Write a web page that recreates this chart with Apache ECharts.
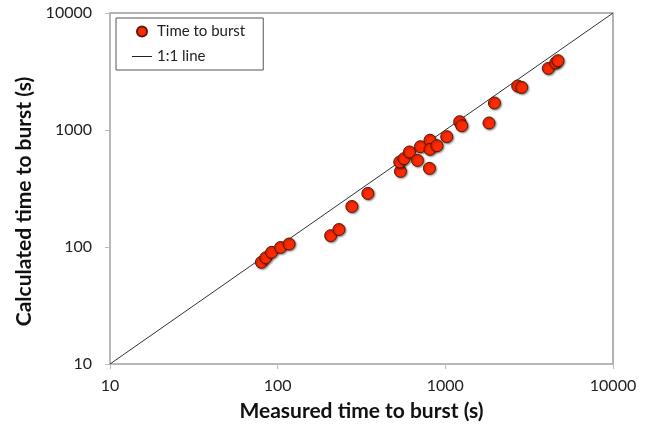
<!DOCTYPE html>
<html>
<head>
<meta charset="utf-8">
<script src="https://cdn.jsdelivr.net/npm/echarts@6/dist/echarts.min.js"></script>
<style>
html,body{margin:0;padding:0;background:#fff;}
#chart{width:654px;height:431px;}
</style>
</head>
<body>
<div id="chart"></div>
<script>
// Measured time to burst (s)
const measured = [80, 85, 92, 104, 117, 207, 232, 277, 345, 540, 535, 567, 611, 682, 710, 804, 810, 810, 892, 1019, 1218, 1252, 1821, 1962, 2701, 2853, 4116, 4549, 4694];
// Calculated time to burst (s)
const calculated = [74, 81, 90, 99, 106, 125, 141, 222, 287, 443, 533, 569, 649, 550, 720, 470, 818, 683, 734, 877, 1177, 1088, 1148, 1702, 2377, 2312, 3362, 3738, 3911];
const lineX = [10, 10000];
const lineY = [10, 10000];
const tickLabels = ['10', '100', '1000', '10000'];

const FONT = 'Lato, "Open Sans", sans-serif';
const scatterData = measured.map((x, i) => [x, calculated[i]]);
const lineData = lineX.map((x, i) => [x, lineY[i]]);

const chart = echarts.init(document.getElementById('chart'), null, {renderer: 'canvas'});
chart.setOption({
  animation: false,
  backgroundColor: '#fff',
  grid: {left: 110, top: 13, right: 41, bottom: 67, show: true, borderColor: '#999', borderWidth: 1.5, backgroundColor: 'transparent'},
  legend: {
    orient: 'vertical', left: 116, top: 18,
    borderColor: '#555', borderWidth: 1, padding: [6, 18, 6, 16],
    itemWidth: 20, itemHeight: 10, itemGap: 10,
    textStyle: {fontFamily: FONT, fontSize: 15, color: '#222'},
    data: [
      {name: 'Time to burst', icon: 'circle'},
      {name: '1:1 line', icon: 'path://M0,0H20V1H0Z', itemStyle: {color: '#222'}}
    ]
  },
  xAxis: {
    type: 'log', min: 10, max: 10000, logBase: 10,
    name: 'Measured time to burst (s)', nameLocation: 'middle', nameGap: 37,
    nameTextStyle: {fontFamily: FONT, fontSize: 21, fontWeight: 'bold', color: '#111'},
    axisLine: {lineStyle: {color: '#bbb', width: 1.5}},
    axisTick: {show: true, inside: false, length: 5, lineStyle: {color: '#bbb'}},
    minorTick: {show: false},
    axisLabel: {fontFamily: FONT, fontSize: 16, color: '#222', margin: 14,
      formatter: v => { const s = String(Math.round(v)); return tickLabels.includes(s) ? s : ''; }},
    splitLine: {show: false}
  },
  yAxis: {
    type: 'log', min: 10, max: 10000, logBase: 10,
    name: 'Calculated time to burst (s)', nameLocation: 'middle', nameGap: 66,
    nameTextStyle: {fontFamily: FONT, fontSize: 21, fontWeight: 'bold', color: '#111', padding: [0, 26, 0, 0]},
    axisLine: {lineStyle: {color: '#bbb', width: 1.5}},
    axisTick: {show: true, inside: false, length: 5, lineStyle: {color: '#bbb'}},
    axisLabel: {fontFamily: FONT, fontSize: 16, color: '#222', margin: 18,
      formatter: v => { const s = String(Math.round(v)); return tickLabels.includes(s) ? s : ''; }},
    splitLine: {show: false}
  },
  series: [
    {
      name: '1:1 line', type: 'line', data: lineData, symbol: 'none', z: 2,
      lineStyle: {color: '#333', width: 1},
      itemStyle: {color: '#333'}
    },
    {
      name: 'Time to burst', type: 'scatter', data: scatterData, symbolSize: 12, z: 3,
      itemStyle: {color: '#ff2a00', borderColor: '#5a1a0a', borderWidth: 1,
        shadowBlur: 2, shadowColor: 'rgba(0,0,0,0.45)', shadowOffsetX: 1, shadowOffsetY: 1, opacity: 1}
    }
  ]
});
</script>
</body>
</html>
